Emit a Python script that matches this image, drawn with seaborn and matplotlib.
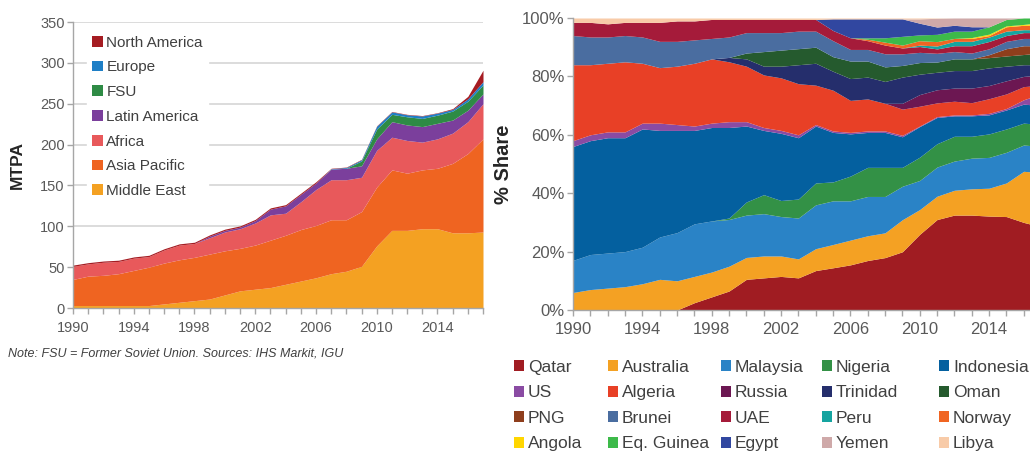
import matplotlib
matplotlib.use("Agg")
import matplotlib.pyplot as plt
import seaborn as sns
import pandas as pd
from matplotlib.ticker import PercentFormatter

# ---- data ----
years = list(range(1990, 2018))

# left chart: LNG exports by region (MTPA)
region_names = ["Middle East", "Asia Pacific", "Africa", "Latin America", "FSU", "Europe", "North America"]
middle_east = [3, 3, 3, 3, 3, 3, 5, 7, 9, 11, 16, 21, 23, 25, 29, 33, 37, 42, 45, 51, 76, 95, 95, 97, 97, 92, 92, 93]
asia_pacific = [32, 36, 37, 39, 43, 47, 50, 52, 53, 55, 54, 52, 54, 58, 60, 63, 64, 66, 63, 67, 72, 74, 70, 72, 74, 85, 97, 114]
africa = [16, 15, 16, 15, 15, 13, 16, 18, 17, 20, 23, 24, 27, 31, 27, 34, 44, 49, 49, 42, 45, 40, 40, 34, 36, 37, 39, 43]
latin_america = [0, 0, 0, 0, 0, 0, 0, 0, 0, 2, 2, 2, 3, 7, 9, 9, 8, 13, 14, 14, 14, 19, 19, 19, 19, 16, 14, 12]
fsu = [0, 0, 0, 0, 0, 0, 0, 0, 0, 0, 0, 0, 0, 0, 0, 0, 0, 0, 0, 6, 12, 9, 10, 10, 10, 11, 11, 11]
europe = [0, 0, 0, 0, 0, 0, 0, 0, 0, 0, 0, 0, 0, 0, 0, 0, 0, 0.5, 1, 1.5, 3.5, 3, 2.5, 3, 2.5, 2, 3, 4]
north_america = [1.5, 1.5, 1.5, 1.5, 1.5, 1.5, 1.5, 1.5, 1.5, 1.5, 1.5, 1.5, 1.5, 1.5, 1.5, 1.5, 1.5,
                 0.5, 0.5, 0.5, 0.5, 0.5, 0.5, 0.5, 0.5, 1, 3, 14]
region_colors = ["#F4A122", "#EF6421", "#E8595B", "#7B3F9C", "#2E8B45", "#1E7FC6", "#A51C22"]

# right chart: % share by exporting country
country_names = ["Qatar", "Australia", "Malaysia", "Nigeria", "Indonesia", "US", "Algeria", "Russia",
                 "Trinidad", "Oman", "PNG", "Brunei", "UAE", "Peru", "Norway", "Angola",
                 "Eq. Guinea", "Egypt", "Yemen", "Libya"]
qatar = [0, 0, 0, 0, 0, 0, 0, 2.5, 4.5, 6.5, 10.5, 11, 11.5, 11, 13.5, 14.5, 15.5, 17, 18, 20, 26, 31, 32.5, 32.5, 32, 32, 30, 28.5]
australia = [6, 7, 7.5, 8, 9, 10.5, 10, 9, 8.5, 8.5, 7.5, 7.5, 7, 6.5, 7.5, 8, 8.5, 8.5, 8.5, 11, 8.5, 8, 8.5, 9, 9.5, 11.5, 17.5, 18.5]
malaysia = [11, 12, 12, 12, 12.5, 14.5, 16.5, 18, 17.5, 16, 14.5, 14.5, 13.5, 14, 15, 15, 13.5, 13.5, 12.5, 11.5, 10, 10, 10, 10.5, 10.5, 10.5, 9, 9]
nigeria = [0, 0, 0, 0, 0, 0, 0, 0, 0, 0.5, 4.5, 6.5, 5.5, 6.5, 7.5, 6.5, 8.5, 10, 10, 6.5, 8, 8, 8.5, 7.5, 8, 8, 7.5, 7.5]
indonesia = [39, 39, 39.5, 39, 40.5, 36.5, 35, 32, 32, 31, 26, 22, 23, 21, 19.5, 17, 14.5, 12, 12, 10.5, 10.5, 9, 7, 7, 6.5, 6.5, 6.5, 6.5]
us = [2, 2, 2, 2, 2, 2.5, 2, 1.5, 1.5, 2, 1.5, 1, 1, 1, 0.5, 0.5, 0.5, 0.5, 0.5, 0.5, 0.2, 0.3, 0.3, 0.3, 0.5, 0.5, 1.5, 4]
algeria = [26, 24, 23.5, 24, 20.5, 19, 20, 21.5, 22, 20.5, 19, 18, 18, 17.5, 13.5, 14, 11, 11, 9.5, 9, 6.8, 4.7, 4.7, 4.2, 5, 5, 4.5, 3]
russia = [0, 0, 0, 0, 0, 0, 0, 0, 0, 0, 0, 0, 0, 0, 0, 0, 0, 0, 0, 2, 4, 4.5, 4.5, 5, 4.5, 4.5, 3.5, 3.5]
trinidad = [0, 0, 0, 0, 0, 0, 0, 0, 0, 1.5, 2.5, 3, 4, 6.5, 7.5, 6.5, 7.5, 7.5, 7.5, 9, 7, 6, 6, 6, 6, 5, 4, 3.5]
oman = [0, 0, 0, 0, 0, 0, 0, 0, 0, 0, 2, 5, 5.5, 5.5, 5.5, 5, 6, 5.5, 5, 4, 4, 3.5, 4, 4, 3.5, 3.5, 3.5, 4]
png = [0, 0, 0, 0, 0, 0, 0, 0, 0, 0, 0, 0, 0, 0, 0, 0, 0, 0, 0, 0, 0, 0, 0, 0, 1, 2.5, 3, 2.5]
brunei = [10, 9.5, 9, 9, 9, 9, 8.5, 8, 7, 7, 7, 6.5, 6, 6, 5.5, 5.5, 4, 4, 4.5, 4, 3.5, 3, 2.5, 2, 2, 2.5, 2.5, 2.5]
uae = [4.5, 5, 4.5, 4.5, 5, 6.5, 7, 6.5, 6.5, 6, 4.5, 4.5, 4.5, 4, 4, 3.5, 4, 3, 3, 2, 2, 1.5, 2, 2.5, 2.5, 2, 2, 2]
peru = [0, 0, 0, 0, 0, 0, 0, 0, 0, 0, 0, 0, 0, 0, 0, 0, 0, 0, 0, 0, 0.5, 1, 1.5, 1.5, 1.5, 1.5, 1, 1]
norway = [0, 0, 0, 0, 0, 0, 0, 0, 0, 0, 0, 0, 0, 0, 0, 0, 0, 0.5, 1, 1, 1.5, 1.5, 1, 1, 0.5, 1.5, 1.5, 1.5]
angola = [0, 0, 0, 0, 0, 0, 0, 0, 0, 0, 0, 0, 0, 0, 0, 0, 0, 0, 0, 0, 0, 0, 0, 0.3, 0.5, 0.3, 0.3, 1]
eq_guinea = [0, 0, 0, 0, 0, 0, 0, 0, 0, 0, 0, 0, 0, 0, 0, 0, 0, 0.5, 1.5, 3, 2, 2.5, 2.5, 2.2, 2.5, 2.2, 2.2, 1.5]
egypt = [0, 0, 0, 0, 0, 0, 0, 0, 0, 0, 0, 0, 0, 0, 0, 4, 6.5, 6.5, 6.5, 6, 4, 2.5, 2, 1.5, 0, 0, 0, 0]
yemen = [0, 0, 0, 0, 0, 0, 0, 0, 0, 0, 0, 0, 0, 0, 0, 0, 0, 0, 0, 0, 1.5, 3, 2.5, 3, 3, 0.5, 0, 0]
libya = [1.5, 1.5, 2, 1.5, 1.5, 1.5, 1, 1, 0.5, 0.5, 0.5, 0.5, 0.5, 0.5, 0.5, 0.3, 0.3, 0.3, 0.3, 0.3, 0.3, 0.1, 0, 0, 0, 0, 0, 0]
country_colors = ["#A01C22", "#F4A123", "#2A83C6", "#339146", "#04609F", "#8A4BA3", "#E84026", "#6C1752",
                  "#252E6C", "#255A2E", "#8E3E1C", "#4A6DA0", "#A51B3A", "#15A4A0", "#F06522", "#FFD600",
                  "#3DBA4A", "#3147A0", "#CFA9A9", "#F8CBA8"]

regions = pd.DataFrame(dict(zip(region_names, [middle_east, asia_pacific, africa, latin_america,
                                                fsu, europe, north_america])), index=years)
shares = pd.DataFrame(dict(zip(country_names, [qatar, australia, malaysia, nigeria, indonesia, us, algeria,
                                                russia, trinidad, oman, png, brunei, uae, peru, norway,
                                                angola, eq_guinea, egypt, yemen, libya])), index=years)
shares = shares.div(shares.sum(axis=1), axis=0) * 100

# ---- style ----
sns.set_theme(style="white")
plt.rcParams["font.family"] = ["Liberation Sans", "DejaVu Sans"]
tick_col = "#595959"
spine_col = "#A6A6A6"

W, H = 1030, 454
fig = plt.figure(figsize=(W / 100, H / 100), dpi=100)


def box(x0, y0, x1, y1):
    return [x0 / W, 1 - y1 / H, (x1 - x0) / W, (y1 - y0) / H]


ax1 = fig.add_axes(box(73, 22, 483, 308))
ax2 = fig.add_axes(box(573, 18, 1041, 310))

xlabels = [str(y) if (y - 1990) % 4 == 0 else "" for y in years]

# left chart
ax1.stackplot(years, *[regions[c] for c in region_names], labels=region_names,
              colors=sns.color_palette(region_colors), linewidth=0)
ax1.set_xlim(1990, 2017)
ax1.set_ylim(0, 350)
ax1.set_yticks(range(0, 351, 50))
ax1.set_xticks(years)
ax1.set_xticklabels(xlabels)
ax1.yaxis.grid(True, color="#D9D9D9", linewidth=1.3)
ax1.set_axisbelow(True)
ax1.set_ylabel("MTPA", fontsize=12.5, fontweight="bold", color="#262626")
ax1.yaxis.set_label_coords(-0.118, 0.5)
ax1.tick_params(axis="both", bottom=True, left=True, direction="out", length=4, width=1,
                color=spine_col, labelcolor=tick_col, labelsize=10.5, pad=2)
ax1.tick_params(axis="x", pad=5)

h, l = ax1.get_legend_handles_labels()
leg = ax1.legend(h[::-1], l[::-1], loc="upper left", bbox_to_anchor=(0.035, 0.968),
                 fontsize=11, frameon=True, framealpha=1, facecolor="white", edgecolor="white",
                 handlelength=0.7, handleheight=0.7, handletextpad=0.25, labelspacing=0.7,
                 borderpad=0.3, borderaxespad=0)
for t in leg.get_texts():
    t.set_color("#404040")

# right chart
ax2.stackplot(years, *[shares[c] for c in country_names], labels=country_names,
              colors=sns.color_palette(country_colors), linewidth=0)
ax2.set_xlim(1990, 2017)
ax2.set_ylim(0, 100)
ax2.set_yticks(range(0, 101, 20))
ax2.yaxis.set_major_formatter(PercentFormatter(decimals=0))
ax2.set_xticks(years)
ax2.set_xticklabels(xlabels)
ax2.set_ylabel("% Share", fontsize=14.5, fontweight="bold", color="#262626")
ax2.yaxis.set_label_coords(-0.128, 0.5)
ax2.tick_params(axis="both", bottom=True, left=True, direction="out", length=4, width=1,
                color=spine_col, labelcolor=tick_col, labelsize=12, pad=2)
ax2.tick_params(axis="x", pad=5)

for ax in (ax1, ax2):
    sns.despine(ax=ax)
    for s in ("left", "bottom"):
        ax.spines[s].set_color(spine_col)
        ax.spines[s].set_linewidth(1)

# legend for the right chart: laid out in 5 columns, read row-wise
handles = dict(zip(*ax2.get_legend_handles_labels()[::-1]))
columns = [["Qatar", "US", "PNG", "Angola"],
           ["Australia", "Algeria", "Brunei", "Eq. Guinea"],
           ["Malaysia", "Russia", "UAE", "Egypt"],
           ["Nigeria", "Trinidad", "Peru", "Yemen"],
           ["Indonesia", "Oman", "Norway", "Libya"]]
col_x = [514, 608, 721, 822, 939]
for names, x in zip(columns, col_x):
    lg = fig.legend([handles[n] for n in names], names, loc="upper left",
                    bbox_to_anchor=(x / W, 1 - 360 / H), frameon=False, fontsize=12.5,
                    handlelength=0.6, handleheight=0.6, handletextpad=0.2, labelspacing=0.6,
                    borderpad=0, borderaxespad=0)
    for t in lg.get_texts():
        t.set_color("#404040")

fig.text(8 / W, 1 - 353 / H, "Note: FSU = Former Soviet Union. Sources: IHS Markit, IGU",
         fontsize=9, style="italic", color="#404040", va="center")

fig.savefig("out.png", dpi=100)
